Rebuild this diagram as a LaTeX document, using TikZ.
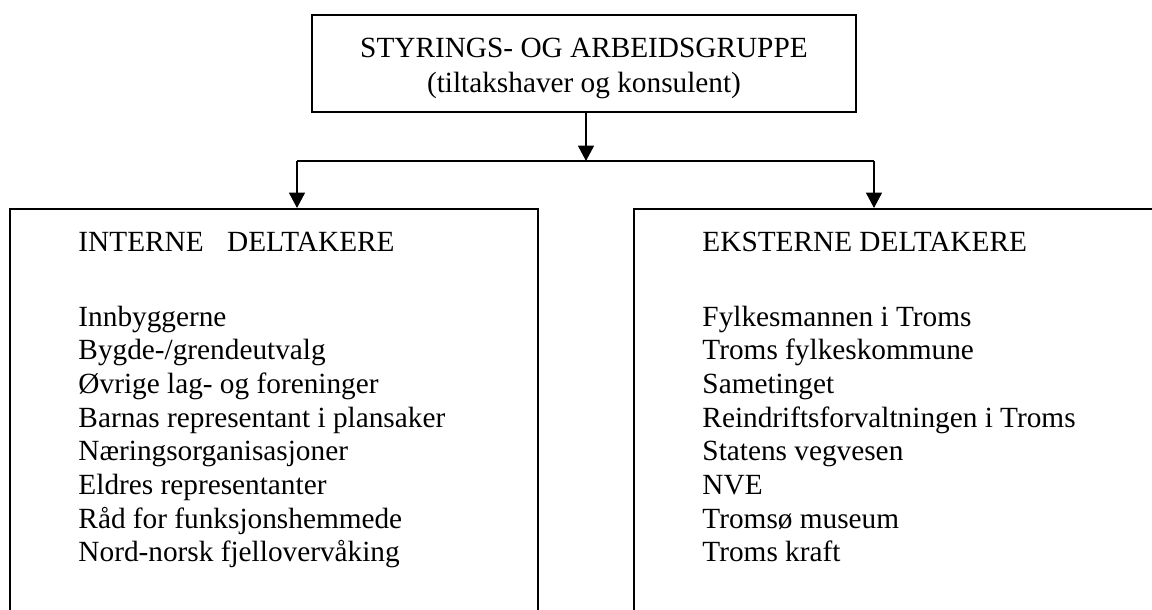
\documentclass[tikz,border=0pt]{standalone}
\usepackage{fontspec}
\setmainfont{Liberation Serif}
\usetikzlibrary{arrows.meta}
\tikzset{
  box/.style={draw, line width=0.85pt, inner sep=0pt},
  link/.style={line width=0.85pt},
  arr/.style={line width=0.85pt, -{Triangle[length=6.6pt,width=6.8pt]}},
  item/.style={anchor=base west, inner sep=0pt, font=\fontsize{12.5}{14.4}\selectfont}
}
\begin{document}
\begin{tikzpicture}[x=0.015cm,y=-0.015cm]
\useasboundingbox (0,0) rectangle (1152,610);
\clip (0,0) rectangle (1152,610);
% Boxes
\node[box, minimum width=8.16cm, minimum height=1.455cm, align=center,
      font=\fontsize{12.5}{14.4}\selectfont] (styring) at (584,63.5)
  {\rule{0pt}{12.3pt}STYRINGS- OG ARBEIDSGRUPPE\\[0.5pt](tiltakshaver og konsulent)};
\node[box, minimum width=7.92cm, minimum height=6.615cm] (intern) at (274,429.5) {}; % Left box
\node[box, minimum width=8.04cm, minimum height=6.615cm] (ekstern) at (902,429.5) {}; % Right box
% Connectors
\coordinate (hub) at (586,161);
\coordinate (lt) at (297,161);
\coordinate (rt) at (874,161);
\draw[arr] (styring.south -| hub) -- (hub);
\draw[link] (lt) -- (rt);
\draw[arr] (lt) -- (lt |- intern.north);
\draw[arr] (rt) -- (rt |- ekstern.north);
% Headings
\node[item] (inthead) at (78,251) {INTERNE\hspace{0.8em}DELTAKERE};
\node[item] (ekshead) at (702,251) {EKSTERNE DELTAKERE};
% Lists
\foreach \txt [count=\i] in {Innbyggerne, Bygde-/grendeutvalg, Øvrige lag- og foreninger,
    Barnas representant i plansaker, Næringsorganisasjoner, Eldres representanter,
    Råd for funksjonshemmede, Nord-norsk fjellovervåking}
  \node[item] (int\i) at (78,{326+(\i-1)*33.7}) {\txt};
\foreach \txt [count=\i] in {Fylkesmannen i Troms, Troms fylkeskommune, Sametinget,
    Reindriftsforvaltningen i Troms, Statens vegvesen, NVE, Tromsø museum, Troms kraft}
  \node[item] (eks\i) at (702,{326+(\i-1)*33.7}) {\txt};
\end{tikzpicture}
\end{document}
